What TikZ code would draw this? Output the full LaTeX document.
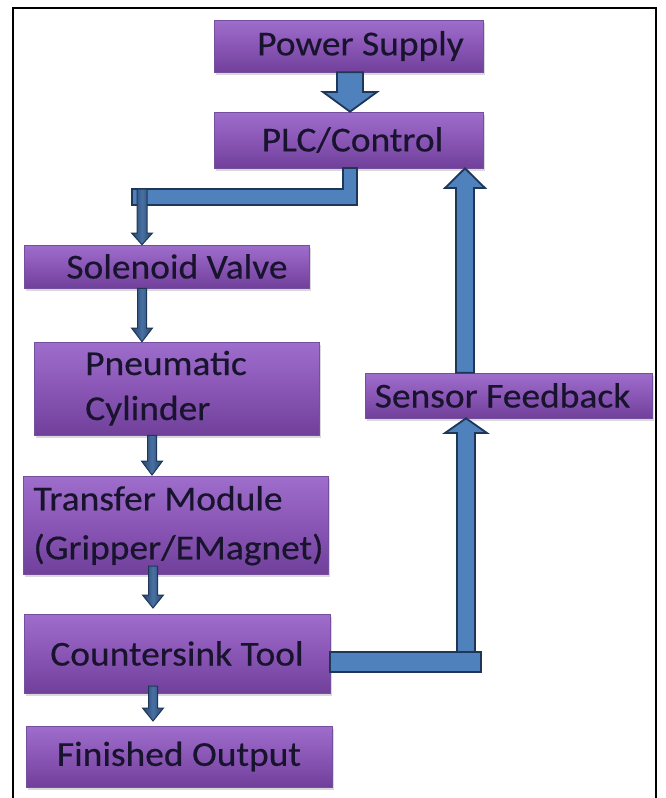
\documentclass[tikz,border=0pt]{standalone}
\usepackage{fontspec}
\setmainfont[FakeStretch=1.07,FakeBold=0.4]{Carlito}
\usetikzlibrary{calc,shadows}
\definecolor{boxtop}{RGB}{158,110,204}
\definecolor{boxmid}{RGB}{138,86,182}
\definecolor{boxbot}{RGB}{112,64,154}
\definecolor{boxedge}{RGB}{118,78,158}
\definecolor{txt}{RGB}{25,20,45}
\definecolor{ablue}{RGB}{79,129,189}
\definecolor{aedge}{RGB}{30,55,88}
\definecolor{tdark}{RGB}{38,68,108}
\definecolor{tlight}{RGB}{72,112,162}
\begin{document}
\begin{tikzpicture}[x=1pt,y=-1pt,
  box/.style={rectangle, top color=boxtop, bottom color=boxbot, middle color=boxmid,
    draw=boxedge, line width=0.6pt, inner sep=0pt,
    drop shadow={shadow xshift=2pt, shadow yshift=-3pt, opacity=0.3},
    font=\fontsize{35}{45}\selectfont, text=txt},
  bigarrow/.style={fill=ablue, draw=aedge, line width=1.8pt, line join=miter},
  thinarrow/.style={left color=tdark, right color=tdark, middle color=tlight,
    draw=aedge, line width=1pt, line join=miter},
  frameline/.style={draw=black, line width=2.5pt}
]
\useasboundingbox (0,0) rectangle (665,798);
\draw[frameline] (13,799) -- (13,8) -- (656,8) -- (656,799);

% nodes
\node[box, minimum width=269pt, minimum height=52pt] (ps) at (348.5,46) {\hspace*{24pt}Power Supply};
\node[box, minimum width=269pt, minimum height=56pt] (plc) at (348.5,140) {\hspace*{8pt}PLC/Control};
\node[box, minimum width=285pt, minimum height=43pt] (sol) at (166.5,266.5) {\hspace*{21pt}Solenoid Valve};
\node[box, minimum width=285pt, minimum height=93pt] (pneu) at (176.5,388.5)
  {\begin{tabular}{@{}l@{}}Pneumatic\\Cylinder\end{tabular}\hspace*{21pt}};
\node[box, minimum width=305pt, minimum height=94pt] (trans) at (175.5,525)
  {\fontsize{35}{49}\selectfont\hspace*{6pt}\begin{tabular}{@{}l@{}}Transfer Module\\(Gripper/EMagnet)\end{tabular}};
\node[box, minimum width=306pt, minimum height=79pt] (count) at (177,653.5) {Countersink Tool};
\node[box, minimum width=306pt, minimum height=61pt] (fin) at (179,756.5) {Finished Output};
\node[box, minimum width=287pt, minimum height=45pt] (sens) at (508.5,395.5) {Sensor Feedback\hspace*{12pt}};

% Power Supply -> PLC
\draw[bigarrow] (337,0 |- ps.south) -- (337,92) -- (323,92) -- (350,0 |- plc.north)
  -- (377,92) -- (363,92) -- (363,0 |- ps.south) -- cycle;

% PLC -> Solenoid (elbow bar + thin arrow)
\draw[bigarrow] (357,0 |- plc.south) -- (357,205) -- (132,205) -- (132,189) -- (343,189)
  -- (343,0 |- plc.south) -- cycle;
\draw[thinarrow] (137,189) -- (137,233) -- (131.5,233) -- (142,0 |- sol.north)
  -- (152.5,233) -- (147,233) -- (147,189) -- cycle;

% Solenoid -> Pneumatic
\draw[thinarrow] (137.5,0 |- sol.south) -- (137.5,328) -- (131.5,328) -- (142,0 |- pneu.north)
  -- (152.5,328) -- (146.5,328) -- (146.5,0 |- sol.south) -- cycle;

% Pneumatic -> Transfer
\draw[thinarrow] (147.5,0 |- pneu.south) -- (147.5,461) -- (141.5,461) -- (152,475)
  -- (162.5,461) -- (156.5,461) -- (156.5,0 |- pneu.south) -- cycle;

% Transfer -> Countersink
\draw[thinarrow] (148.5,566) -- (148.5,595) -- (142.5,595) -- (153,608)
  -- (163.5,595) -- (157.5,595) -- (157.5,566) -- cycle;

% Countersink -> Finished
\draw[thinarrow] (148.5,686) -- (148.5,708) -- (142.5,708) -- (153,721)
  -- (163.5,708) -- (157.5,708) -- (157.5,686) -- cycle;

% Countersink -> Sensor Feedback
\draw[bigarrow] (457,652) -- (457,433) -- (445,433) -- (466,0 |- sens.south)
  -- (487,433) -- (475,433) -- (475,652) -- cycle;
\draw[bigarrow] (count.east |- 0,652) -- (481,652) -- (481,672) -- (count.east |- 0,672) -- cycle;

% Sensor Feedback -> PLC
\draw[bigarrow] (456,0 |- sens.north) -- (456,188) -- (445,188) -- (465,0 |- plc.south)
  -- (485,188) -- (474,188) -- (474,0 |- sens.north) -- cycle;
\end{tikzpicture}
\end{document}
